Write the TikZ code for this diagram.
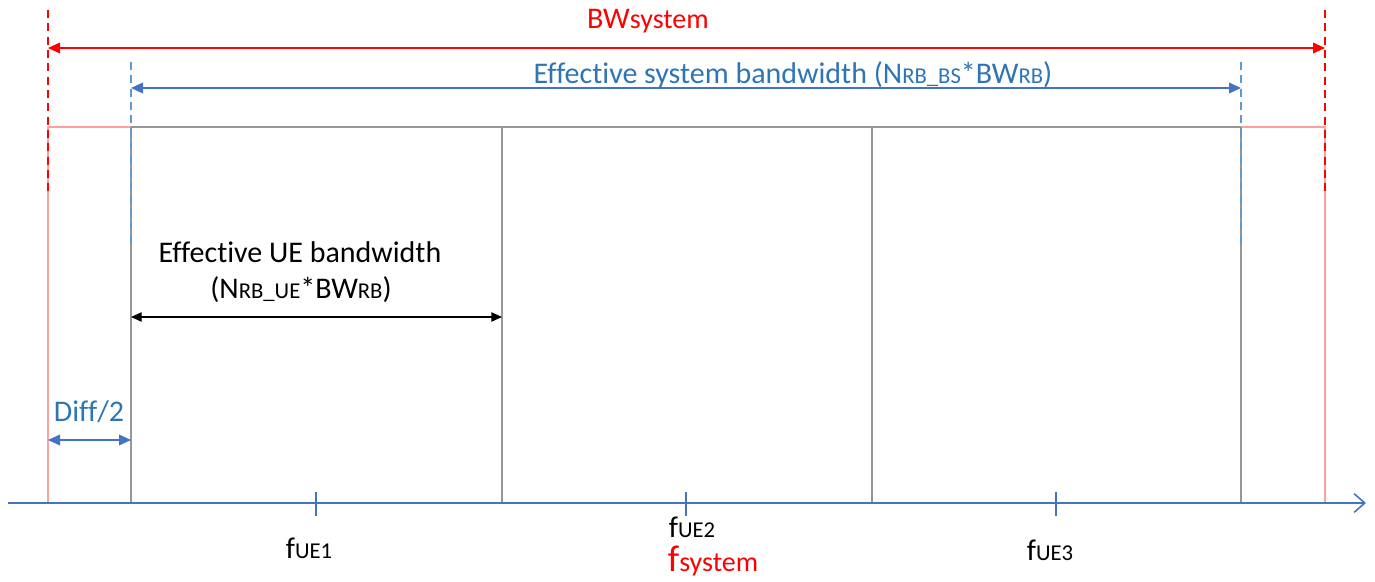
\documentclass[tikz,border=0pt]{standalone}
\usepackage{fontspec}
\setmainfont[Ligatures={NoCommon}]{Carlito}
\usetikzlibrary{arrows.meta}
\definecolor{ared}{RGB}{255,0,0}
\definecolor{lred}{RGB}{255,160,160}
\definecolor{ablue}{RGB}{68,114,196}
\definecolor{tblue}{RGB}{46,117,182}
\definecolor{dblue}{RGB}{91,155,213}
\definecolor{lgray}{RGB}{150,150,150}
\newcommand{\sbs}[1]{{\fontsize{17}{17}\selectfont #1}}
\begin{document}
\begin{tikzpicture}[x=0.75pt,y=-0.75pt,
  lbl/.style={inner sep=0pt,font=\fontsize{22.5}{26}\selectfont},
  reddash/.style={draw=ared,dash pattern=on 6pt off 4pt,line width=1pt},
  bluedash/.style={draw=dblue,dash pattern=on 6pt off 4pt,line width=1pt},
  redarr/.style={draw=ared,line width=1.2pt,{Triangle[length=9pt,width=8pt]}-{Triangle[length=9pt,width=8pt]}},
  bluearr/.style={draw=ablue,line width=1.2pt,{Triangle[length=9pt,width=8pt]}-{Triangle[length=9pt,width=8pt]}},
  blackarr/.style={draw=black,line width=1pt,{Triangle[length=8pt,width=7pt]}-{Triangle[length=8pt,width=7pt]}},
  sep/.style={draw=lgray,line width=0.8pt},
  redsep/.style={draw=lred,line width=0.8pt},
  tick/.style={draw=ablue,line width=1pt}]
\useasboundingbox (0,0) rectangle (1375,582);
% coordinates
\coordinate (rlt) at (48,10);  \coordinate (rlb) at (48,192);
\coordinate (rrt) at (1325,10); \coordinate (rrb) at (1325,192);
\coordinate (blt) at (131,62);  \coordinate (blb) at (131,245);
\coordinate (brt) at (1241,62); \coordinate (brb) at (1241,245);
\coordinate (ra1) at (48,48); \coordinate (ra2) at (1325,48);
\coordinate (ba1) at (131,88); \coordinate (ba2) at (1241,88);
\coordinate (t0) at (48,127); \coordinate (t1) at (131,127); \coordinate (t2) at (502,127);
\coordinate (t3) at (872,127); \coordinate (t4) at (1241,127); \coordinate (t5) at (1325,127);
\coordinate (b0) at (48,503); \coordinate (b1) at (131,503); \coordinate (b2) at (502,503);
\coordinate (b3) at (872,503); \coordinate (b4) at (1241,503); \coordinate (b5) at (1325,503);
\coordinate (ax0) at (8,503); \coordinate (ax1) at (1366,503);
% box
\draw[redsep] (b0) -- (t0) -- (t1);
\draw[redsep] (t4) -- (t5) -- (b5);
\draw[sep] (t1) -- (t4);
\draw[sep] (t1) -- (b1);
\draw[sep] (t2) -- (b2);
\draw[sep] (t3) -- (b3);
\draw[sep] (t4) -- (b4);
% dashed guides
\draw[reddash] (rlt) -- (rlb);
\draw[reddash] (rrt) -- (rrb);
\draw[bluedash] (blt) -- (blb);
\draw[bluedash] (brt) -- (brb);
% arrows
\draw[redarr] (ra1) -- (ra2);
\draw[bluearr] (ba1) -- (ba2);
\node[lbl,text=ared] (bwsys) at (648,21) {BW{\fontsize{21}{21}\selectfont system}};
\node[lbl,text=tblue] (effsys) at (793,75) {Effective system bandwidth (N\sbs{RB\_BS}*BW\sbs{RB})};
% UE bandwidth
\coordinate (ue1) at (131,317); \coordinate (ue2) at (502,317);
\draw[blackarr] (ue1) -- (ue2);
\node[lbl] (effue) at (300,252) {Effective UE bandwidth};
\node[lbl] (effue2) at (301,290) {(N\sbs{RB\_UE}*BW\sbs{RB})};
% Diff/2
\coordinate (d1) at (48,440); \coordinate (d2) at (131,440);
\draw[bluearr] (d1) -- (d2);
\node[lbl,text=tblue] (diff) at (89,412) {Diff/2};
% axis
\draw[draw=ablue,line width=1.2pt,-{Straight Barb[length=8pt,width=14pt,line width=1.2pt]}] (ax0) -- (ax1);
\coordinate (k1a) at (316,492); \coordinate (k1b) at (316,516);
\coordinate (k2a) at (686,492); \coordinate (k2b) at (686,516);
\coordinate (k3a) at (1056,492); \coordinate (k3b) at (1056,516);
\draw[tick] (k1a) -- (k1b);
\draw[tick] (k2a) -- (k2b);
\draw[tick] (k3a) -- (k3b);
\node[lbl] (f1) at (309,548) {f\sbs{UE1}};
\node[lbl] (f2) at (692,527) {f\sbs{UE2}};
\node[lbl,text=ared,font=\fontsize{28}{30}\selectfont] (fs) at (713,561) {f{\fontsize{21}{21}\selectfont system}};
\node[lbl] (f3) at (1050,550) {f\sbs{UE3}};
\end{tikzpicture}
\end{document}
